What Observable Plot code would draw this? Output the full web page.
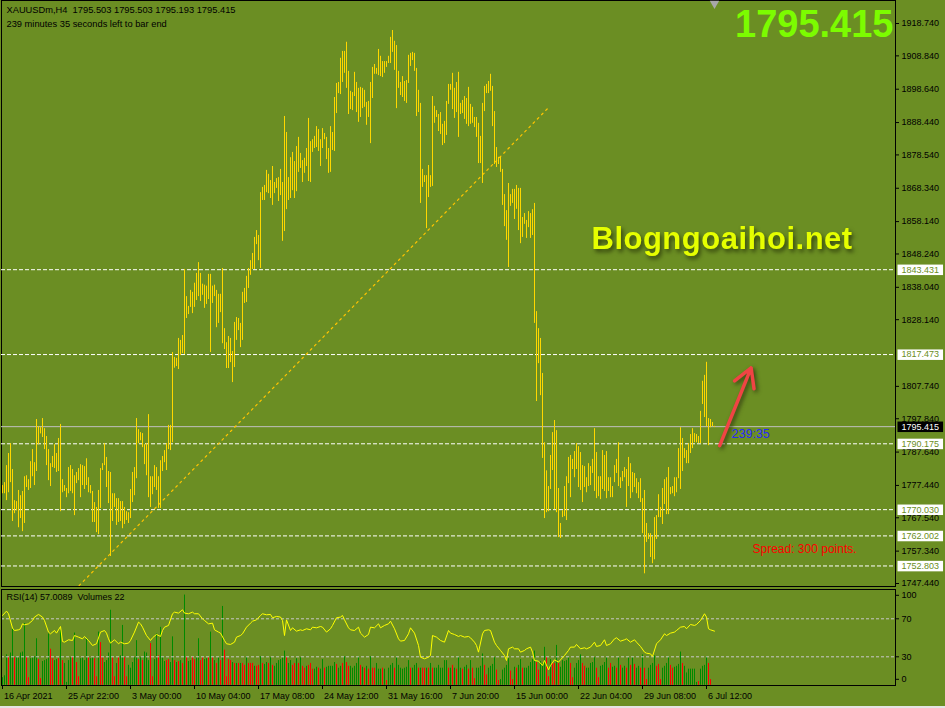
<!DOCTYPE html>
<html><head><meta charset="utf-8">
<script src="https://cdn.jsdelivr.net/npm/d3@7"></script>
<script src="https://cdn.jsdelivr.net/npm/@observablehq/plot@0.6"></script>
<style>
body{margin:0;background:#6B8E23;}
#chart{position:relative;width:945px;height:708px;background:#6B8E23;overflow:hidden;}
#chart svg{position:absolute;left:0;}
#chart svg text{white-space:pre;}
#edge{position:absolute;left:0;top:706px;width:945px;height:2px;background:#E4E4E4;}
</style></head><body><div id="chart"><div id="edge"></div></div>
<script>
// ---------- data ----------
const symbol = "XAUUSDm,H4";
const lastOHLC = [1795.503, 1795.503, 1795.193, 1795.415];
const bidPrice = 1795.415;
const countdown = "239:35";
const timerText = "239 minutes 35 seconds left to bar end";
const watermark = "Blogngoaihoi.net";
const spreadText = "Spread: 300 points.";
const rsiHeader = "RSI(14) 57.0089  Volumes 22";

const highs = [
1777.4,1778.3,1783.5,1787.2,1790.2,1782.3,1772.8,1772.5,1775.9,1774.3,
1775.6,1780.1,1780.4,1779.2,1784.7,1788.4,1784.4,1797.6,1795.4,1795.1,
1797.9,1794.8,1792.4,1788.4,1784.1,1786.3,1789.9,1787.2,1791.8,1796.1,
1779.2,1777.4,1776.5,1782.9,1783.5,1782.3,1780.4,1781.4,1782.6,1783.8,
1783.5,1783.2,1785.6,1779.8,1777.4,1775.6,1772.2,1770.7,1775.9,1782.6,
1784.1,1790.2,1786.0,1781.7,1781.4,1774.9,1774.9,1773.4,1773.4,1772.5,
1772.5,1770.7,1769.4,1769.1,1776.2,1781.4,1782.9,1797.9,1794.5,1793.6,
1793.3,1789.9,1790.2,1799.1,1780.1,1780.1,1783.5,1782.9,1780.1,1785.0,
1786.3,1788.1,1790.2,1795.8,1795.8,1818.1,1816.6,1816.3,1822.4,1821.8,
1823.3,1843.5,1835.2,1832.2,1837.1,1836.5,1839.3,1842.3,1845.6,1842.3,
1839.0,1838.7,1838.4,1842.0,1842.0,1838.4,1838.7,1837.1,1835.9,1835.9,
1843.8,1825.4,1821.1,1823.0,1822.4,1818.4,1827.3,1828.8,1828.5,1827.0,
1836.5,1837.7,1841.4,1843.8,1846.2,1848.4,1853.3,1855.4,1853.9,1867.0,
1868.6,1869.2,1873.8,1872.6,1870.7,1875.0,1870.1,1871.3,1871.6,1874.1,
1870.1,1890.3,1885.4,1871.6,1877.7,1879.3,1876.5,1881.1,1883.9,1879.0,
1876.8,1877.5,1880.5,1889.7,1882.6,1883.2,1884.2,1887.2,1886.3,1883.2,
1886.6,1885.1,1883.9,1880.5,1887.2,1885.4,1896.1,1900.4,1900.7,1908.1,
1910.2,1910.2,1913.0,1904.1,1898.0,1897.6,1903.8,1900.7,1898.9,1899.2,
1898.9,1898.3,1894.6,1894.9,1900.7,1905.3,1906.2,1905.0,1910.8,1908.7,
1907.1,1907.1,1907.1,1908.7,1914.5,1916.6,1913.3,1912.0,1904.1,1900.7,
1902.5,1901.0,1901.3,1909.0,1909.6,1909.9,1909.6,1905.0,1898.3,1894.3,
1874.1,1872.2,1872.2,1875.3,1872.2,1896.4,1893.4,1892.1,1890.9,1891.5,
1887.9,1888.8,1894.9,1900.1,1900.1,1903.5,1898.9,1900.7,1903.8,1894.3,
1895.2,1896.4,1895.8,1899.2,1894.0,1893.1,1890.0,1890.0,1888.2,1884.2,
1894.3,1899.5,1900.1,1901.0,1903.2,1899.5,1891.8,1880.8,1877.8,1877.8,
1874.1,1866.4,1861.5,1869.8,1866.4,1868.0,1868.0,1869.2,1868.3,1868.3,
1859.4,1860.6,1858.5,1861.2,1860.6,1861.8,1863.7,1830.6,1825.4,1822.4,
1811.7,1790.5,1781.9,1777.1,1786.6,1793.6,1797.3,1794.2,1776.5,1765.8,
1769.7,1777.1,1780.1,1786.0,1786.6,1785.4,1787.8,1790.2,1789.3,1787.5,
1783.5,1783.2,1779.8,1784.1,1783.2,1785.4,1794.8,1787.5,1780.1,1780.1,
1788.1,1786.6,1787.8,1779.8,1779.8,1777.1,1783.5,1785.4,1790.5,1779.8,
1781.7,1782.9,1782.3,1786.0,1784.1,1781.4,1781.1,1779.5,1778.3,1779.5,
1773.4,1775.9,1765.8,1762.7,1762.7,1761.8,1767.6,1768.2,1774.6,1770.7,
1776.5,1779.2,1779.8,1782.9,1776.8,1777.1,1779.8,1779.8,1788.7,1795.1,
1791.8,1788.7,1788.1,1790.2,1793.0,1794.8,1793.3,1793.0,1792.4,1800.1,
1809.3,1811.1,1815.1,1797.9,1797.6,1796.7,1795.503];

const lows = [
1774.9,1774.9,1772.8,1775.2,1778.3,1766.4,1768.8,1769.7,1764.5,1767.3,
1763.3,1765.8,1776.8,1775.9,1776.5,1780.1,1777.4,1781.7,1789.9,1793.2,
1792.1,1788.4,1783.5,1778.9,1777.1,1782.9,1782.6,1781.4,1781.7,1769.4,
1775.2,1775.6,1773.7,1774.9,1775.6,1774.9,1768.2,1778.0,1778.9,1773.7,
1777.4,1776.2,1777.4,1775.2,1774.9,1766.1,1766.1,1763.0,1762.4,1770.4,
1782.0,1783.5,1776.8,1771.9,1755.7,1766.4,1770.7,1765.2,1766.1,1766.4,
1764.2,1765.5,1766.7,1765.8,1767.3,1772.2,1774.3,1779.5,1790.2,1791.1,
1789.0,1783.8,1780.4,1773.7,1770.7,1774.6,1776.8,1775.9,1770.4,1770.4,
1781.7,1784.4,1782.0,1788.4,1788.1,1790.5,1813.3,1813.8,1812.9,1817.2,
1817.8,1817.5,1828.5,1829.7,1831.9,1830.0,1831.9,1834.0,1835.2,1833.7,
1835.6,1831.6,1832.8,1834.3,1818.1,1833.1,1835.2,1825.7,1827.0,1830.3,
1820.8,1819.0,1813.2,1813.2,1815.0,1808.9,1813.5,1821.8,1824.8,1819.6,
1821.8,1833.1,1833.4,1837.7,1841.7,1843.5,1843.5,1851.1,1846.2,1843.8,
1864.6,1864.6,1867.0,1866.7,1865.2,1863.1,1866.7,1868.3,1864.3,1866.1,
1852.1,1855.1,1861.8,1864.6,1865.2,1867.6,1865.2,1867.3,1873.2,1874.4,
1870.1,1872.9,1875.0,1870.4,1870.1,1879.3,1880.5,1880.8,1879.6,1875.0,
1880.5,1883.2,1877.1,1872.9,1873.2,1879.9,1879.6,1891.2,1897.3,1897.0,
1900.7,1903.5,1898.9,1890.9,1892.4,1892.1,1896.4,1891.5,1888.5,1890.0,
1892.7,1893.1,1887.6,1890.0,1882.0,1895.8,1903.2,1903.2,1902.8,1902.5,
1902.2,1903.5,1905.3,1906.5,1906.5,1909.9,1904.4,1892.7,1898.9,1896.7,
1896.1,1894.9,1894.3,1900.4,1905.6,1907.4,1904.1,1890.3,1891.5,1863.7,
1868.6,1870.1,1856.0,1865.5,1868.6,1868.9,1888.2,1890.0,1885.7,1884.8,
1881.4,1882.0,1884.5,1894.0,1898.3,1892.4,1889.7,1891.5,1883.9,1890.9,
1891.2,1889.4,1887.9,1887.2,1887.9,1888.2,1886.9,1883.9,1875.9,1875.9,
1869.8,1891.8,1897.3,1897.3,1898.0,1887.2,1875.6,1874.7,1875.6,1873.2,
1863.1,1856.6,1852.4,1844.1,1862.8,1863.7,1858.8,1861.9,1855.4,1851.4,
1853.3,1857.3,1853.0,1856.3,1853.0,1853.9,1827.0,1803.1,1814.7,1804.9,
1785.7,1767.3,1769.1,1769.4,1776.2,1782.0,1770.0,1769.1,1761.5,1761.2,
1767.6,1767.9,1766.7,1778.0,1773.7,1782.3,1779.8,1782.3,1776.8,1775.9,
1772.2,1776.8,1775.2,1777.1,1777.4,1781.1,1775.6,1773.4,1774.0,1773.1,
1776.2,1775.6,1773.4,1775.6,1773.7,1773.7,1778.3,1781.1,1777.1,1776.5,
1778.6,1779.8,1770.7,1777.1,1773.4,1775.2,1776.8,1774.9,1773.4,1772.2,
1762.7,1750.4,1760.0,1760.9,1755.4,1753.5,1754.7,1760.9,1767.6,1767.6,
1765.5,1771.6,1768.5,1768.5,1774.6,1774.9,1774.0,1775.2,1779.5,1776.2,
1781.7,1785.7,1784.1,1784.1,1787.2,1788.7,1790.5,1790.5,1790.2,1790.2,
1802.2,1798.2,1795.4,1789.6,1795.1,1795.4,1795.193];

const priceLevels = [1843.431, 1817.473, 1790.175, 1770.030, 1762.002, 1752.803];
const priceTicks = [1918.74,1908.84,1898.64,1888.44,1878.54,1868.34,1858.14,1848.24,1838.04,1828.14,1807.74,1797.84,1787.64,1777.44,1767.54,1757.34,1747.44];

const timeTickBars = [0,32,64,96,128,160,192,224,256,288,320,352];
const timeLabels = ["16 Apr 2021","25 Apr 22:00","3 May 00:00","10 May 04:00","17 May 08:00","24 May 12:00","31 May 16:00","7 Jun 20:00","15 Jun 00:00","22 Jun 04:00","29 Jun 08:00","6 Jul 12:00"];

const rsiBar = [0,2,3,5,6,8,9,10,11,13,15,16,18,20,21,23,24,26,27,29,
30,31,33,35,36,38,40,41,43,45,47,49,51,52,53,54,56,58,59,61,
63,64,66,68,69,70,72,74,75,77,79,80,81,83,85,86,88,90,91,93,
95,96,98,100,101,103,105,106,108,109,111,112,114,116,117,119,120,122,124,125,
127,129,130,132,134,135,137,139,140,141,142,144,145,147,149,150,152,154,155,157,
159,160,162,164,165,167,169,170,171,173,174,176,178,179,181,183,184,186,188,189,
191,193,194,196,198,199,201,203,204,206,208,209,211,213,214,215,217,219,221,223,
224,226,228,229,231,233,234,236,237,238,240,241,243,244,246,247,249,251,252,253,
255,256,258,259,261,262,264,265,266,268,270,271,273,274,276,278,279,281,283,284,
286,287,289,291,292,294,296,297,299,301,302,304,306,307,309,311,312,314,316,317,
319,321,322,324,325,327,329,331,332,334,336,337,339,341,342,344,346,347,349,351,
352,353,354,356];
const rsiVal = [73.5,78.1,75.3,60.2,57.7,58.4,59.5,64.7,63.7,64.7,68.2,71.8,74.6,71.8,68.2,56.0,54.2,57.7,54.9,61.9,
46.1,45.4,47.9,47.2,52.4,50.7,48.9,51.4,47.2,41.9,43.7,56.0,57.7,54.9,48.9,44.4,47.9,43.7,45.4,43.7,
44.4,47.2,56.0,66.5,64.7,61.2,52.4,47.2,50.0,53.5,51.4,57.7,61.2,63.0,75.3,77.0,76.0,79.5,76.0,75.3,
77.0,75.3,75.3,70.0,68.2,64.7,65.4,58.4,56.0,54.9,47.2,43.7,43.0,45.4,50.7,52.4,54.2,61.2,65.4,67.5,
68.9,73.5,75.3,74.2,74.6,71.1,72.5,71.8,68.2,52.4,68.9,57.7,60.5,57.0,58.4,57.7,59.5,58.4,61.2,60.5,
61.9,61.2,56.0,59.5,63.0,71.1,71.8,73.5,68.9,60.5,58.4,57.7,61.2,54.9,50.7,53.5,61.2,60.5,64.7,60.5,
63.0,64.7,67.5,59.5,48.9,46.5,47.2,54.2,60.5,54.9,41.9,29.6,27.9,29.6,31.4,52.4,50.7,47.2,45.4,57.7,
54.9,53.5,51.4,52.4,50.7,51.4,50.0,45.4,41.9,34.9,54.2,57.7,58.4,57.7,45.4,41.9,36.7,31.4,26.1,38.4,
40.2,38.4,38.4,34.9,36.7,38.4,40.2,34.9,26.1,25.4,20.9,26.1,16.3,20.9,26.8,24.4,26.8,31.4,36.7,40.2,
40.2,43.0,38.4,39.5,38.4,40.2,45.4,40.9,41.9,47.9,41.9,43.7,48.9,50.0,46.5,47.9,48.9,45.4,47.9,45.4,
40.9,34.9,33.8,33.1,30.3,43.7,47.9,54.2,52.4,54.9,56.0,57.7,61.2,61.9,59.5,64.0,63.0,64.0,68.2,75.3,
71.8,59.5,58.4,57.0];

const volumes = [
8,10,32,30,34,59,29,30,30,34, 35,65,30,8,28,29,30,49,27,7,
25,26,27,54,38,28,26,27,28,58, 26,23,3,26,29,30,55,24,9,28,
29,26,49,29,28,29,28,9,56,45, 29,24,26,34,79,29,9,23,29,31,
63,29,9,21,18,24,29,47,27,29, 26,35,34,26,44,9,27,54,31,61,
29,25,26,27,24,51,26,24,25,26, 23,95,30,25,26,30,27,29,49,26,
29,27,28,29,56,29,26,23,29,26, 83,37,9,27,26,24,23,23,23,23,
23,21,30,23,23,23,20,20,21,30, 23,22,24,23,29,21,20,23,26,27,
29,36,30,23,26,21,23,28,23,29, 20,18,20,21,23,17,17,19,18,17,
27,18,19,20,20,20,24,22,18,20, 23,30,24,20,20,18,20,23,30,21,
19,18,20,17,30,18,18,23,17,17, 18,17,5,18,21,23,18,29,21,18,
17,18,19,26,18,18,21,23,18,18, 18,18,18,18,23,18,18,18,21,18,
18,26,26,18,18,21,18,17,30,18, 17,19,21,17,26,18,7,18,18,20,
33,21,11,18,20,22,29,16,5,6, 16,18,21,28,15,6,19,18,21,27,
18,18,18,20,24,27,36,24,16,25, 23,40,30,9,27,23,23,42,23,19,
26,25,26,29,23,8,18,23,26,32, 23,20,18,18,23,24,29,18,8,20,
21,24,29,18,23,19,20,18,29,21, 18,20,18,29,21,29,22,18,20,18,
32,18,6,18,21,23,31,20,22,6, 18,20,23,30,21,18,19,20,22,35,
23,20,13,17,17,17,17,3,4,17, 20,21,30,23,6];
// g = volume bar drawn green (up), r = red (down)
const volDir =
"gggrggrggg"+"ggrrggggrr"+"ggggrrggrg"+"rggggrgrrg"+"gggrggrrgr"+"rggggrrgrg"+"grrgggggrg"+"rgggrrggrg"+
"ggrrggrgrg"+"rgrggrrggr"+"rggrgrgrgr"+"grrrrgrgrg"+"rrgrrrgrrg"+"rggrgrgggg"+"ggrggrrgrg"+"rrgrrrggrg"+
"grgggggrgg"+"rgrrgggggr"+"grgrgrrggg"+"rgrgggrggg"+"ggggrgggrg"+"rrgrgrgggg"+"gggrgrgrgg"+"rggrgrrggg"+
"grrggggrrg"+"ggggrrgrgg"+"rggggggrrg"+"ggrrgrrgrg"+"ggggrrgggg"+"rrgggggrrg"+"gggrrggrgr"+"ggrgrgrggr"+
"grrggggrrr"+"ggggrrgggg"+"rgggggggrg"+"gggrr";

// trendline anchors (bar index, price) and arrow (bar index, price)
const trendBars = [38.3, 273];
const trendPrices = [1746.8, 1893.0];
const arrowBars = [358.6, 374.3];
const arrowPrices = [1789.6, 1813.4];

// ---------- build ----------
const lastBar = highs.length - 1;
const bars = highs.map((h, i) => ({i, h, l: lows[i]}));
const trend = trendBars.map((b, k) => ({i: b, p: trendPrices[k]}));
const arrowData = [{x1: arrowBars[0], y1: arrowPrices[0], x2: arrowBars[1], y2: arrowPrices[1]}];
const rsiTable = rsiBar.map((b, k) => ({i: b, r: rsiVal[k]}));
const volTable = volumes.map((v, i) => ({i, v, c: volDir[i] === "g" ? "#008A00" : "#FF0000"}));
const header = `${symbol}  ${lastOHLC.map(d => d.toFixed(3)).join(" ")}`;

const font = "'Liberation Sans', Arial, sans-serif";
const baseStyle = {background: "transparent", fontFamily: font, fontSize: "9px", color: "black", overflow: "visible"};
const xScale = {type: "linear", domain: [0, 356], range: [2, 714], axis: null, label: null};
const ARROW_RED = "#F04444";

const main = Plot.plot({
  width: 945, height: 588,
  marginLeft: 1, marginRight: 50, marginTop: 0, marginBottom: 2,
  x: xScale,
  y: {domain: [1747.44, 1918.74], range: [583, 23], axis: null, label: null},
  style: baseStyle,
  marks: [
    Plot.frame({stroke: "black"}),
    Plot.ruleY(priceLevels, {stroke: "white", strokeDasharray: "4,2"}),
    Plot.ruleY([bidPrice], {stroke: "#C0C0C0"}),
    Plot.line(trend, {x: "i", y: "p", stroke: "#FFC400", strokeDasharray: "2,4", strokeWidth: 1.2, clip: true}),
    Plot.ruleX(bars, {x: "i", y1: "l", y2: "h", stroke: "#FFD700"}),
    Plot.axisY(priceTicks, {anchor: "right", label: null, tickSize: 3, tickPadding: 3, tickFormat: d => d.toFixed(3), fill: "black", stroke: "black"}),
    Plot.text(priceLevels, {y: d => d, text: d => d.toFixed(3), frameAnchor: "right", textAnchor: "start", dx: 6, fill: "#6B8E23"}),
    Plot.text([bidPrice], {y: d => d, text: d => d.toFixed(3), frameAnchor: "right", textAnchor: "start", dx: 6, fill: "white"}),
    Plot.text([header], {frameAnchor: "top-left", textAnchor: "start", lineAnchor: "top", dx: 5, dy: 5.5, fill: "black", fontSize: 9.3}),
    Plot.text([timerText], {frameAnchor: "top-left", textAnchor: "start", lineAnchor: "top", dx: 5, dy: 19.5, fill: "black", fontSize: 9.3}),
    Plot.text([bidPrice.toFixed(3)], {frameAnchor: "top-right", textAnchor: "end", lineAnchor: "top", dx: -2, dy: 10, fontSize: 38, fontWeight: "bold", fill: "#7CFC00"}),
    Plot.text([watermark], {frameAnchor: "top-left", textAnchor: "start", lineAnchor: "top", dx: 590, dy: 226.5, fontSize: 31, fontWeight: "bold", fill: "#E6FF00"}),
    Plot.text([spreadText], {frameAnchor: "top-left", textAnchor: "start", lineAnchor: "top", dx: 751, dy: 543.5, fontSize: 12, fill: "#FF0000"}),
    Plot.text([{t: countdown, i: lastBar, p: bidPrice}], {x: "i", y: "p", text: "t", textAnchor: "start", lineAnchor: "top", dx: 17, dy: 2, fontSize: 12.5, fill: "#2828FF"}),
    Plot.arrow(arrowData, {x1: "x1", y1: "y1", x2: "x2", y2: "y2", stroke: ARROW_RED, strokeWidth: 3.5, headLength: 9, headAngle: 60}),
    Plot.dot([lastBar], {x: d => d, frameAnchor: "top", dy: 3, symbol: "triangle", rotate: 180, r: 3.5, fill: "#A8A8A8", stroke: "none"})
  ]
});

const rsi = Plot.plot({
  width: 945, height: 120,
  marginLeft: 1, marginRight: 50, marginTop: 1, marginBottom: 23,
  x: xScale,
  y: {domain: [0, 100], range: [96.8, 1.8], axis: null, label: null},
  color: {type: "identity"},
  style: baseStyle,
  marks: [
    Plot.ruleX(volTable, {x: "i", y1: 0, y2: "v", stroke: "c"}),
    Plot.ruleY([70, 30], {stroke: "#C8C8C8", strokeDasharray: "3,2"}),
    Plot.line(rsiTable, {x: "i", y: "r", stroke: "#FFFF00", strokeWidth: 1}),
    Plot.frame({stroke: "black"}),
    Plot.axisY([70, 30], {anchor: "right", label: null, tickSize: 3, tickPadding: 3, fill: "black", stroke: "black"}),
    Plot.axisY([100], {anchor: "right", label: null, tickSize: 3, tickPadding: 3, dy: 5, fill: "black", stroke: "black"}),
    Plot.axisY([0], {anchor: "right", label: null, tickSize: 3, tickPadding: 3, dy: -6, fill: "black", stroke: "black"}),
    Plot.axisX(timeTickBars, {anchor: "bottom", label: null, tickSize: 4, tickFormat: () => "", stroke: "black"}),
    Plot.axisX(timeTickBars, {anchor: "bottom", label: null, tickSize: 0, tickPadding: 7, dx: 1.5, textAnchor: "start", fill: "black",
      tickFormat: d => timeLabels[timeTickBars.indexOf(d)]}),
    Plot.text([rsiHeader], {frameAnchor: "top-left", textAnchor: "start", lineAnchor: "top", dx: 5, dy: 4.3, fill: "black"})
  ]
});

const host = document.getElementById("chart");
main.style.top = "0px";
rsi.style.top = "588px";
host.appendChild(main);
host.appendChild(rsi);

// label boxes behind the right-axis price tags
const levelStrings = new Set(priceLevels.map(d => d.toFixed(3)));
const bidString = bidPrice.toFixed(3);
function addBox(textEl, fill) {
  const b = textEl.getBBox();
  const r = document.createElementNS("http://www.w3.org/2000/svg", "rect");
  r.setAttribute("x", b.x - 4);
  r.setAttribute("y", b.y);
  r.setAttribute("width", b.width + 8);
  r.setAttribute("height", b.height + 0.5);
  r.setAttribute("fill", fill);
  r.setAttribute("stroke", "none");
  const tr = textEl.getAttribute("transform");
  if (tr) r.setAttribute("transform", tr);
  textEl.parentNode.insertBefore(r, textEl);
}
const svgLeft = main.getBoundingClientRect().left;
main.querySelectorAll("text").forEach(t => {
  const s = t.textContent;
  const rc = t.getBoundingClientRect();
  const onAxis = rc.left - svgLeft > 890 && rc.height < 20;
  if (onAxis && levelStrings.has(s)) addBox(t, "white");
  else if (onAxis && s === bidString) addBox(t, "black");
  if (s === watermark) {
    t.style.letterSpacing = "0.5px";
    t.style.filter = "drop-shadow(2px 3px 2px rgba(35,45,5,0.75))";
  }
});
main.querySelectorAll(`[stroke="${ARROW_RED}"]`).forEach(el => {
  el.style.filter = "drop-shadow(2px 2px 2px rgba(30,30,10,0.7))";
});
</script>
</body></html>
